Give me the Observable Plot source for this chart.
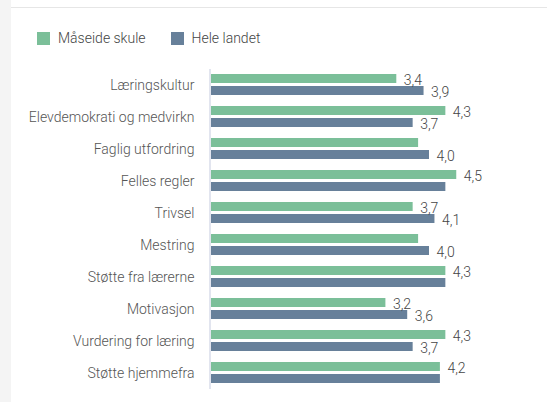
<!DOCTYPE html>
<html>
<head>
<meta charset="utf-8">
<script src="https://cdn.jsdelivr.net/npm/d3@7"></script>
<script src="https://cdn.jsdelivr.net/npm/@observablehq/plot@0.6"></script>
<style>
  body { margin: 0; background: #fff; font-family: Roboto, "Noto Sans", sans-serif; }
  #wrap { position: relative; width: 547px; height: 402px; background: #fff; overflow: hidden; }
  #strip { position: absolute; left: 0; top: 0; width: 11px; height: 402px; background: #f4f4f4; }
  #topline { position: absolute; left: 11px; right: 0; top: 7px; height: 1px; background: #e6e6e6; }
  #legend { position: absolute; left: 37px; top: 30px; display: flex; align-items: center; font-size: 14px; font-weight: 300; color: #444; }
  .item { display: flex; align-items: center; margin-right: 25px; }
  .sw { width: 13px; height: 13px; margin-right: 8px; }
  #chart { position: absolute; left: 0; top: 55px; }
</style>
</head>
<body>
<div id="wrap">
  <div id="strip"></div>
  <div id="topline"></div>
  <div id="legend"></div>
  <div id="chart"></div>
</div>
<script>
const categories = ["Læringskultur", "Elevdemokrati og medvirkn", "Faglig utfordring", "Felles regler", "Trivsel", "Mestring", "Støtte fra lærerne", "Motivasjon", "Vurdering for læring", "Støtte hjemmefra"];
const series = ["Måseide skule", "Hele landet"];
const maseide = [3.4, 4.3, 3.8, 4.5, 3.7, 3.8, 4.3, 3.2, 4.3, 4.2];
const landet = [3.9, 3.7, 4.0, 4.3, 4.1, 4.0, 4.3, 3.6, 3.7, 4.2];
const showMaseide = [true, true, false, true, true, false, true, true, true, true];
const showLandet = [true, true, true, false, true, true, false, true, true, false];
const colors = ["#7bbf99", "#67809a"];

const data = [];
categories.forEach((c, i) => {
  data.push({cat: c, series: series[0], value: maseide[i], show: showMaseide[i]});
  data.push({cat: c, series: series[1], value: landet[i], show: showLandet[i]});
});

const legend = document.getElementById("legend");
series.forEach((s, i) => {
  const it = document.createElement("div");
  it.className = "item";
  it.innerHTML = `<div class="sw" style="background:${colors[i]}"></div><span>${s}</span>`;
  legend.appendChild(it);
});

const fmt = v => v.toFixed(1).replace(".", ",");

const plot = Plot.plot({
  width: 547,
  height: 347,
  marginTop: 10,
  marginBottom: 10,
  marginLeft: 211,
  marginRight: 63.5,
  style: {fontFamily: "Roboto, 'Noto Sans', sans-serif", background: "transparent"},
  x: {domain: [0, 5], axis: null},
  fy: {domain: categories, padding: 0, label: null},
  y: {domain: series, axis: null, paddingInner: 0.213, paddingOuter: 0.394},
  color: {domain: series, range: colors},
  marks: [
    Plot.barX(data, {fy: "cat", y: "series", x: "value", fill: "series"}),
    Plot.text(data.filter(d => d.show), {fy: "cat", y: "series", x: "value", text: d => fmt(d.value), textAnchor: "start", dx: 7, dy: 1.5, fontSize: 14, fontWeight: 300, fill: "#444"}),
    Plot.ruleX([0], {stroke: "#e2e5ef", strokeWidth: 2, dx: -1.5}),
    Plot.axisFy({anchor: "left", tickSize: 0, tickPadding: 17, fontSize: 14, fontWeight: 300, color: "#555", label: null})
  ]
});
document.getElementById("chart").appendChild(plot);
</script>
</body>
</html>
